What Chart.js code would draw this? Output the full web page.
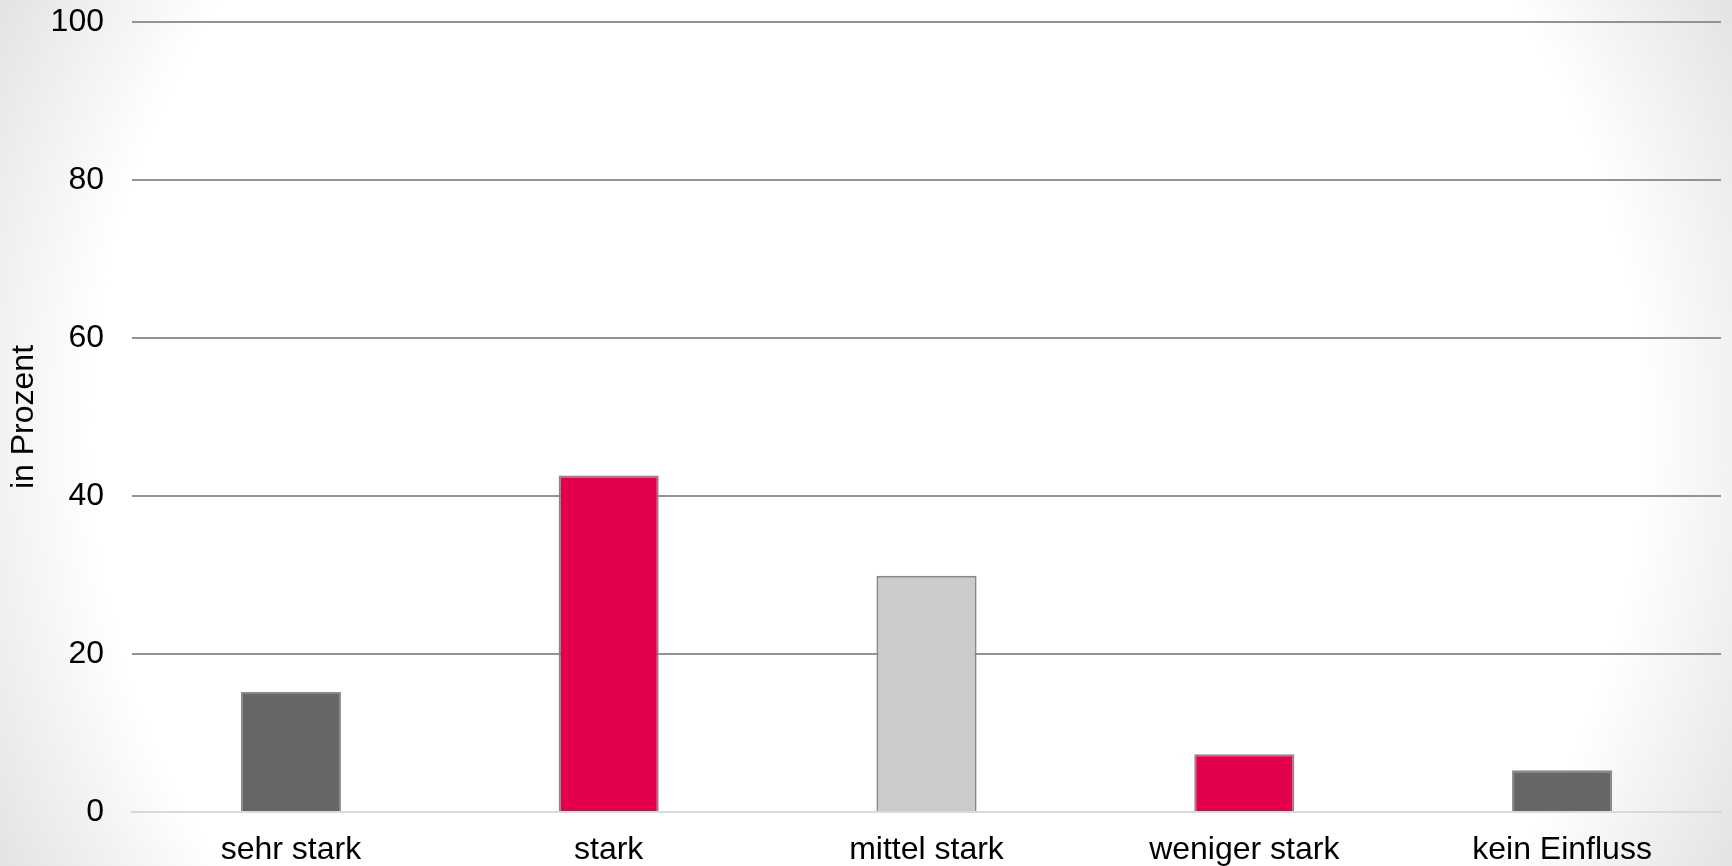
<!DOCTYPE html>
<html>
<head>
<meta charset="utf-8">
<script src="https://cdn.jsdelivr.net/npm/chart.js@4/dist/chart.umd.min.js"></script>
<style>
    html, body {
        margin: 0;
        padding: 0;
        overflow: hidden;
    }
    body {
        width: 1732px;
        height: 866px;
        background: radial-gradient(circle farthest-corner at center, #ffffff 80%, #e3e3e3 100%);
    }
    canvas {
        display: block;
    }
</style>
</head>
<body>
<canvas id="influenceChart" width="1732" height="866"></canvas>
<script>
const categories = ["sehr stark", "stark", "mittel stark", "weniger stark", "kein Einfluss"];
const shares = [15.2, 42.6, 29.9, 7.3, 5.3];
const barColors = ["#666666", "#e2004f", "#cbcbcb", "#e2004f", "#666666"];
const yTicks = [0, 20, 40, 60, 80, 100];
const yTitle = "in Prozent";

Chart.defaults.font.family = "'Liberation Sans', Arial, sans-serif";
Chart.defaults.color = "#000000";

const ctx = document.getElementById("influenceChart").getContext("2d");
new Chart(ctx, {
    type: "bar",
    data: {
        labels: categories,
        datasets: [{
            label: yTitle,
            data: shares,
            backgroundColor: barColors,
            borderColor: "#888888",
            borderWidth: 2,
            categoryPercentage: 1,
            barPercentage: 0.315
        }]
    },
    options: {
        responsive: false,
        animation: false,
        layout: { padding: { left: 5, right: 11, top: 22, bottom: 0 } },
        plugins: {
            legend: { display: false },
            tooltip: { enabled: false }
        },
        scales: {
            x: {
                grid: { display: false, drawTicks: false },
                border: { color: "#d9d9d9", width: 2 },
                ticks: { font: { size: 32 }, padding: 19, color: "#000" },
                afterFit: scale => {
                    // labels may run past the bottom edge, as in the original
                    scale.height = 54;
                    scale.paddingLeft = 0;
                    scale.paddingRight = 0;
                }
            },
            y: {
                min: 0,
                max: 100,
                afterBuildTicks: axis => { axis.ticks = yTicks.map(v => ({ value: v })); },
                grid: {
                    drawTicks: false,
                    color: c => c.tick && c.tick.value === 0 ? "#d9d9d9" : "#939393",
                    lineWidth: 2
                },
                border: { display: false },
                ticks: { font: { size: 32 }, padding: 28, color: "#000" },
                title: {
                    display: true,
                    text: yTitle,
                    font: { size: 32 },
                    color: "#000",
                    padding: { top: 0, bottom: 8 }
                },
                afterFit: scale => {
                    scale.width = 127;
                    scale.paddingTop = 0;
                    scale.paddingBottom = 0;
                }
            }
        }
    }
});
</script>
</body>
</html>
